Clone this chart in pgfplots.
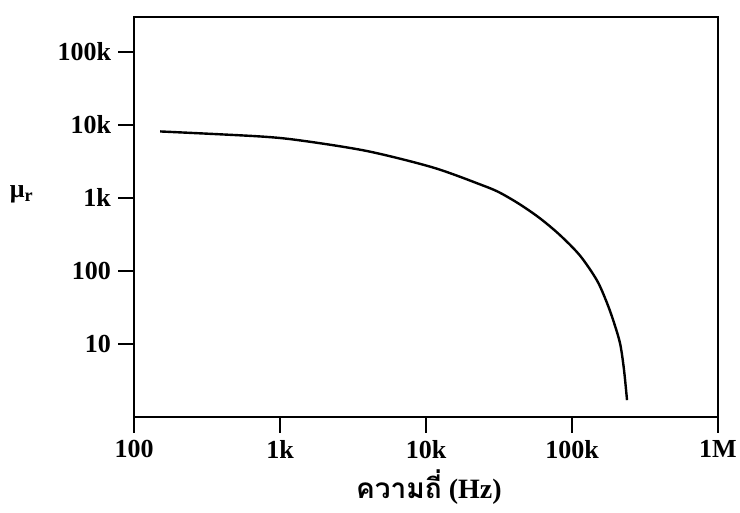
\documentclass[border=0pt]{standalone}
\usepackage{fontspec}
\setmainfont{Liberation Serif}
\newfontfamily\thaifont[Script=Thai]{Loma}
\usepackage{pgfplots}
\pgfplotsset{compat=1.18}
\begin{document}
\begin{tikzpicture}
\path[use as bounding box] (-67pt,-48pt) rectangle (303pt,208.5pt);
\begin{axis}[
  at={(0,0)}, anchor=south west,
  scale only axis, width=292pt, height=200pt,
  xmode=log, ymode=log,
  xmin=100, xmax=1000000, ymin=1, ymax=300000,
  xtick={100,1000,10000,100000,1000000},
  xticklabels={100,1k,10k,100k,1M},
  ytick={10,100,1000,10000,100000},
  yticklabels={10,100,1k,10k,100k},
  xminorticks=false, yminorticks=false,
  xtick pos=bottom, ytick pos=left,
  tick align=outside, major tick length=8pt,
  axis line style={line width=1.4pt},
  every tick/.style={line width=1.2pt, black},
  tick label style={font=\fontsize{13}{15}\selectfont\bfseries},
  xlabel={{\thaifont\bfseries ความถี่} (Hz)},
  every axis x label/.style={at={(axis description cs:0.505,0)}, anchor=center, yshift=-35pt, font=\fontsize{14}{16}\selectfont\bfseries},
  ylabel={μ\textsubscript{r}},
  every axis y label/.style={at={(axis description cs:-0.192,0.556)}, anchor=center, font=\fontsize{13}{15}\selectfont\bfseries},
]
\addplot[black, line width=1.2pt, smooth] coordinates {
(151,8128) (724,6950) (1413,6080) (3981,4365) (11220,2600) (24550,1479)
(32140,1175) (44060,813) (60390,525) (82790,309) (113500,162) (148300,74.1)
(173800,36.3) (194100,19.5) (213800,10.0) (227000,4.47) (238200,1.7)
};
\end{axis}
\end{tikzpicture}
\end{document}
